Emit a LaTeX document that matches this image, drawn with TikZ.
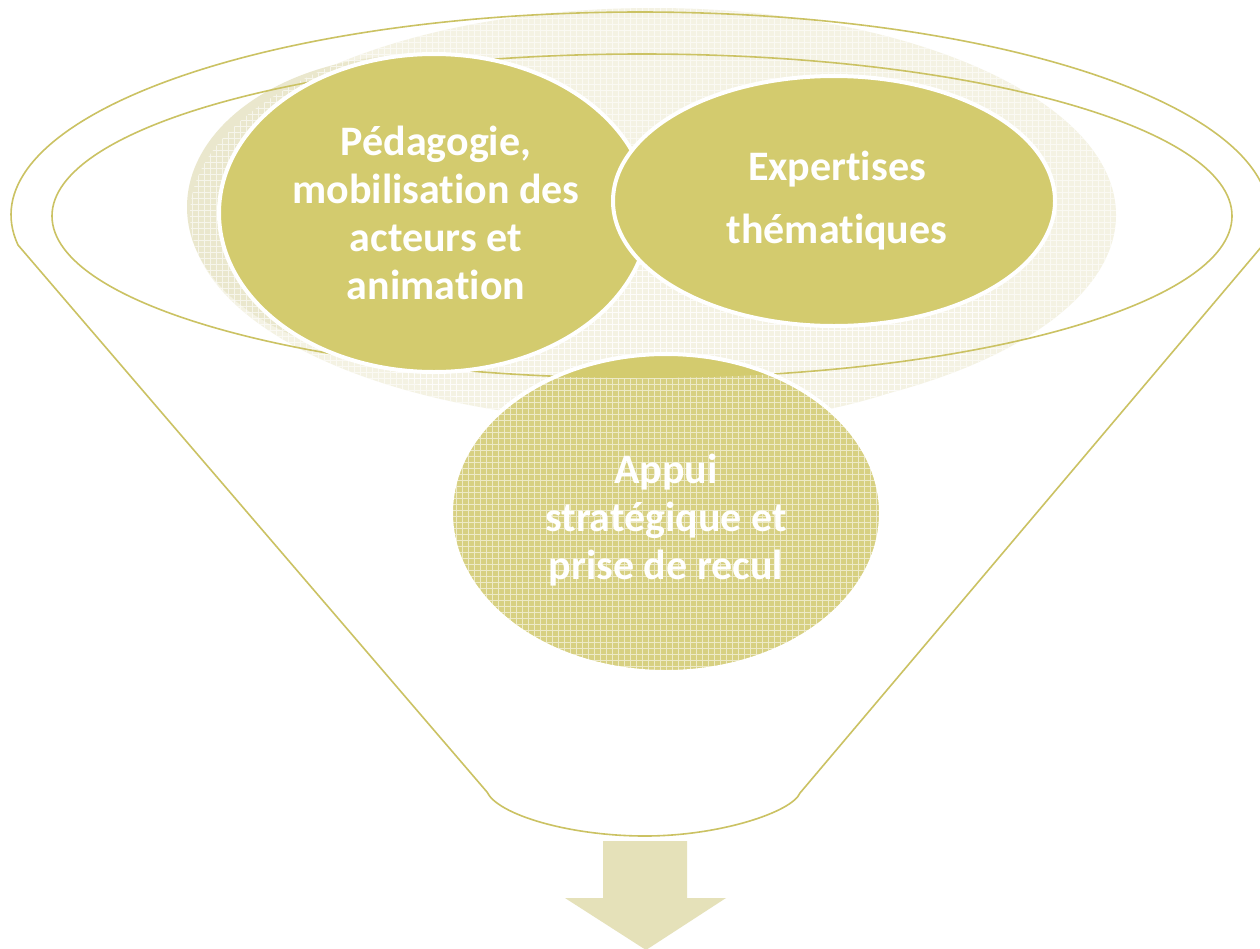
\documentclass[tikz,border=0pt]{standalone}
\usepackage{fontspec}
\setmainfont{Carlito}[Ligatures=NoCommon]
\usetikzlibrary{shapes.geometric,patterns.meta}
\definecolor{funfill}{HTML}{D3CB6E}
\definecolor{funline}{HTML}{CBC263}
\definecolor{appfill}{HTML}{D7D082}
\definecolor{bgglow}{HTML}{F4F2E3}
\definecolor{haloc}{HTML}{EAE7CD}
\definecolor{arrowc}{HTML}{E5E1B9}
\tikzset{
  blob/.style={ellipse, draw=white, line width=4pt, fill=funfill, inner sep=0pt},
  rimline/.style={draw=funline, line width=1.6pt},
  lbl/.style={text=white, align=center, font=\bfseries\fontsize{42}{48}\selectfont},
  lblwide/.style={lbl, font=\bfseries\fontsize{42}{63}\selectfont},
  gridtex/.style={pattern={Hatch[angle=0,distance=6pt,line width=0.7pt]}, pattern color=white!55!appfill},
  glowtex/.style={pattern={Hatch[angle=0,distance=6pt,line width=0.6pt]}, pattern color=white},
}
\begin{document}
\begin{tikzpicture}[x=1pt,y=-1pt]
\useasboundingbox (0,0) rectangle (1260,948);
\fill[white] (0,0) rectangle (1260,948);
% background glow
\fill[bgglow] (653,215) ellipse [x radius=463, y radius=207];
\fill[bgglow] (665,300) ellipse [x radius=335, y radius=125];
\fill[haloc] (415,207) ellipse [x radius=228, y radius=152];
\fill[glowtex, opacity=0.6] (653,215) ellipse [x radius=463, y radius=207];
\fill[glowtex, opacity=0.6] (665,300) ellipse [x radius=335, y radius=125];
% funnel outline
\draw[rimline] (18,245) arc[start angle=171.5, end angle=369.1, x radius=629, y radius=203]
  -- (800,793) .. controls (792,812) and (720,836) .. (645,836)
  .. controls (570,836) and (498,815) .. (487,792) -- cycle;
\draw[rimline] (642,216) ellipse [x radius=590, y radius=162];
% ellipses
\node[blob, minimum width=430pt, minimum height=318pt] (ped) at (434,213) {};
\node[blob, minimum width=442pt, minimum height=250pt] (exp) at (834,201) {};
\node[ellipse, inner sep=0pt, fill=appfill, postaction={gridtex},
      minimum width=430pt, minimum height=318pt] (app) at (666,513) {};
\begin{scope}
  \clip (642,216) ellipse [x radius=590, y radius=162];
  \fill[funfill] (app.center) ellipse [x radius=215, y radius=159];
\end{scope}
\draw[white, line width=4pt] (app.center) ellipse [x radius=215, y radius=159];
% texts
\node[lbl] (pedt) at (436,213) {Pédagogie,\\mobilisation des\\acteurs et\\animation};
\node[lblwide] (expt) at (837,201) {Expertises\\thématiques};
\node[lbl] (appt) at (666,520) {Appui\\stratégique et\\prise de recul};
% arrow
\fill[arrowc] (603,841) -- (687,841) -- (687,898) -- (726,898) -- (646,950)
  -- (565,898) -- (603,898) -- cycle;
\end{tikzpicture}
\end{document}
